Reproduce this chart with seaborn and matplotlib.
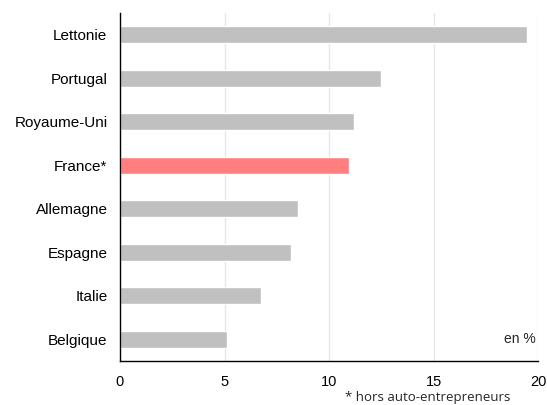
import matplotlib.pyplot as plt
import pandas as pd
import seaborn as sns

countries = ["Lettonie", "Portugal", "Royaume-Uni", "France*", "Allemagne",
             "Espagne", "Italie", "Belgique"]
values = [19.45, 12.5, 11.2, 10.98, 8.52, 8.2, 6.74, 5.13]
highlight = "France*"
x_ticks = [0, 5, 10, 15, 20]

df = pd.DataFrame({"pays": countries, "valeur": values})
palette = {c: ("#ff7f7f" if c == highlight else "#c0c0c0") for c in countries}

sns.set_style("white")
plt.rcParams["font.family"] = ["Liberation Sans", "DejaVu Sans"]

fig = plt.figure(figsize=(5.47, 4.05), dpi=100)
ax = fig.add_axes([120 / 547, 44 / 405, 418 / 547, 348 / 405])

sns.barplot(data=df, x="valeur", y="pays", hue="pays", palette=palette,
            legend=False, width=0.38, saturation=1, ax=ax)

ax.set_xlim(0, 20)
ax.set_ylim(7.5, -0.5)
ax.set_xticks(x_ticks)
ax.set_xlabel("")
ax.set_ylabel("")
ax.tick_params(axis="both", length=0, colors="black")
ax.tick_params(axis="x", pad=10, labelsize=10.5)
ax.tick_params(axis="y", pad=9, labelsize=11)
ax.grid(axis="x", color="#e6e6e6", linewidth=1)
ax.set_axisbelow(True)
sns.despine(ax=ax, top=True, right=True)
for side in ("left", "bottom"):
    ax.spines[side].set_color("black")
    ax.spines[side].set_linewidth(1)

ax.text(0.995, 7.0, "en %", ha="right", va="center", fontsize=10,
        transform=ax.get_yaxis_transform())
fig.text(428 / 547, 1 - 398 / 405, "* hors auto-entrepreneurs", ha="center",
         va="center", fontsize=9.5, family=["Open Sans", "DejaVu Sans"])

fig.savefig("out.png", dpi=100)
